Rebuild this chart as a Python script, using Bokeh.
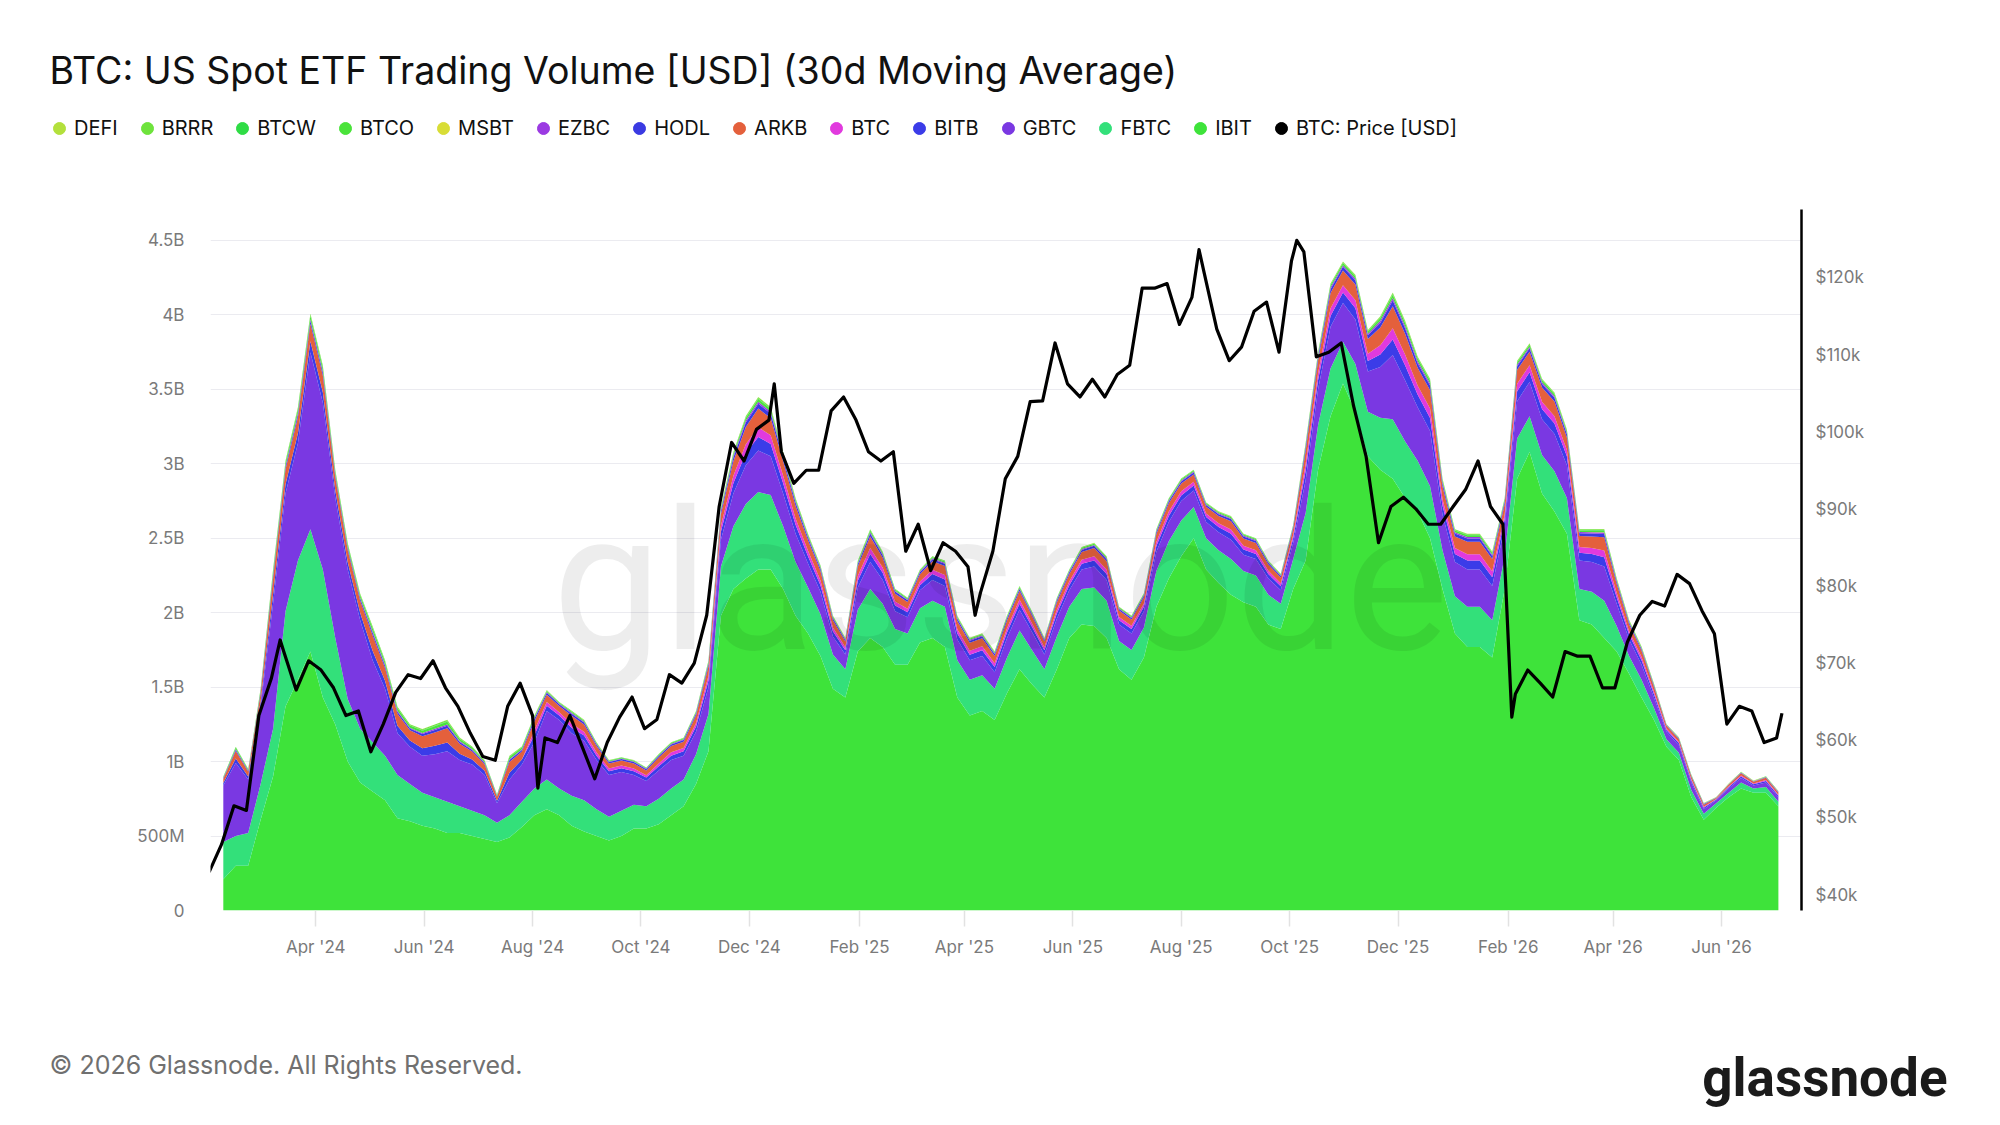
import numpy as np
import pandas as pd
from bokeh.plotting import figure
from bokeh.layouts import column
from bokeh.models import (ColumnDataSource, Range1d, LinearAxis, FixedTicker,
                          DatetimeTickFormatter, PrintfTickFormatter, Legend,
                          LegendItem, Label)
from bokeh.embed import file_html
from bokeh.resources import INLINE

TITLE = "BTC: US Spot ETF Trading Volume [USD] (30d Moving Average)"
FOOTER = "\u00a9 2026 Glassnode. All Rights Reserved."

# ---- weekly 30d-MA volume readings (first point 2024-02-09, every 7 days) ----
AREA_START = "2024-02-09"
# main funds, in billions USD
IBIT = [
    0.21, 0.30, 0.30, 0.61, 0.90, 1.37, 1.55, 1.74, 1.43, 1.25,
    1.00, 0.86, 0.80, 0.74, 0.62, 0.60, 0.57, 0.55, 0.52, 0.52,
    0.50, 0.48, 0.46, 0.49, 0.56, 0.64, 0.68, 0.64, 0.57, 0.53,
    0.50, 0.47, 0.50, 0.55, 0.55, 0.58, 0.64, 0.70, 0.85, 1.07,
    1.98, 2.16, 2.23, 2.29, 2.29, 2.16, 1.98, 1.86, 1.71, 1.49,
    1.43, 1.74, 1.83, 1.77, 1.65, 1.65, 1.80, 1.83, 1.77, 1.43,
    1.31, 1.34, 1.28, 1.46, 1.62, 1.52, 1.43, 1.62, 1.83, 1.92,
    1.91, 1.83, 1.62, 1.55, 1.70, 2.04, 2.23, 2.38, 2.50, 2.29,
    2.20, 2.12, 2.07, 2.04, 1.92, 1.89, 2.16, 2.35, 2.96, 3.32,
    3.54, 3.35, 3.05, 2.96, 2.90, 2.77, 2.68, 2.50, 2.16, 1.86,
    1.77, 1.77, 1.70, 2.16, 2.90, 3.08, 2.80, 2.68, 2.53, 1.95,
    1.92, 1.83, 1.74, 1.59, 1.43, 1.28, 1.10, 1.01, 0.76, 0.61,
    0.69, 0.76, 0.82, 0.79, 0.79, 0.70,
]
FBTC = [
    0.25, 0.20, 0.22, 0.24, 0.32, 0.64, 0.80, 0.82, 0.86, 0.58,
    0.42, 0.36, 0.33, 0.30, 0.29, 0.25, 0.22, 0.21, 0.21, 0.18,
    0.17, 0.16, 0.13, 0.15, 0.17, 0.18, 0.20, 0.18, 0.20, 0.21,
    0.18, 0.16, 0.17, 0.16, 0.15, 0.17, 0.18, 0.18, 0.20, 0.25,
    0.33, 0.42, 0.50, 0.52, 0.50, 0.42, 0.36, 0.31, 0.28, 0.23,
    0.19, 0.28, 0.33, 0.29, 0.24, 0.21, 0.23, 0.25, 0.27, 0.25,
    0.24, 0.24, 0.21, 0.24, 0.26, 0.23, 0.19, 0.22, 0.21, 0.24,
    0.26, 0.25, 0.19, 0.20, 0.20, 0.24, 0.25, 0.24, 0.21, 0.21,
    0.22, 0.24, 0.21, 0.21, 0.20, 0.17, 0.20, 0.32, 0.30, 0.32,
    0.28, 0.32, 0.30, 0.35, 0.40, 0.38, 0.34, 0.35, 0.26, 0.25,
    0.27, 0.27, 0.25, 0.22, 0.27, 0.24, 0.26, 0.27, 0.24, 0.21,
    0.22, 0.25, 0.17, 0.12, 0.12, 0.08, 0.05, 0.05, 0.05, 0.04,
    0.03, 0.03, 0.04, 0.03, 0.04, 0.03,
]
GBTC = [
    0.38, 0.49, 0.36, 0.52, 0.84, 0.79, 0.79, 1.19, 1.12, 0.94,
    0.87, 0.73, 0.55, 0.45, 0.28, 0.25, 0.25, 0.29, 0.34, 0.31,
    0.31, 0.27, 0.13, 0.24, 0.25, 0.31, 0.46, 0.46, 0.42, 0.40,
    0.33, 0.28, 0.26, 0.20, 0.17, 0.19, 0.19, 0.16, 0.15, 0.18,
    0.18, 0.22, 0.26, 0.28, 0.26, 0.22, 0.19, 0.16, 0.15, 0.12,
    0.10, 0.15, 0.18, 0.16, 0.12, 0.11, 0.12, 0.14, 0.14, 0.14,
    0.13, 0.13, 0.11, 0.13, 0.14, 0.12, 0.10, 0.12, 0.11, 0.13,
    0.14, 0.14, 0.11, 0.11, 0.11, 0.13, 0.13, 0.13, 0.11, 0.11,
    0.12, 0.13, 0.11, 0.11, 0.11, 0.09, 0.11, 0.22, 0.24, 0.28,
    0.26, 0.30, 0.27, 0.34, 0.43, 0.41, 0.36, 0.37, 0.24, 0.23,
    0.25, 0.25, 0.23, 0.20, 0.25, 0.23, 0.24, 0.25, 0.22, 0.19,
    0.20, 0.23, 0.15, 0.11, 0.10, 0.07, 0.05, 0.05, 0.05, 0.03,
    0.02, 0.03, 0.03, 0.02, 0.03, 0.03,
]
# smaller funds, in millions USD
BITB = [
    17, 31, 20, 34, 64, 62, 67, 73, 70, 53,
    50, 50, 64, 53, 50, 42, 50, 56, 59, 42,
    34, 28, 17, 45, 34, 45, 35, 30, 38, 35,
    30, 25, 25, 25, 23, 28, 30, 30, 35, 45,
    55, 70, 83, 90, 83, 70, 60, 50, 45, 35,
    28, 45, 55, 48, 38, 33, 35, 40, 43, 40,
    38, 38, 35, 38, 40, 35, 28, 35, 35, 38,
    40, 40, 30, 30, 30, 38, 40, 38, 35, 33,
    35, 40, 35, 35, 30, 28, 30, 63, 63, 73,
    70, 75, 70, 85, 105, 100, 85, 88, 60, 55,
    60, 60, 58, 48, 68, 65, 68, 70, 60, 53,
    55, 63, 43, 33, 30, 23, 13, 13, 13, 10,
    5, 8, 10, 8, 10, 10,
]
BTC_MINI = [
    0, 0, 0, 0, 0, 0, 0, 0, 0, 0,
    0, 0, 0, 0, 0, 0, 0, 0, 0, 0,
    0, 0, 0, 0, 0, 32, 25, 22, 27, 25,
    22, 18, 18, 18, 16, 20, 22, 22, 25, 32,
    40, 50, 59, 65, 59, 50, 43, 36, 32, 25,
    20, 32, 40, 34, 27, 23, 25, 29, 31, 29,
    27, 27, 25, 27, 29, 25, 20, 25, 25, 27,
    29, 29, 22, 22, 22, 27, 29, 27, 25, 23,
    25, 29, 25, 25, 22, 20, 22, 45, 45, 52,
    50, 54, 50, 61, 76, 72, 61, 63, 43, 40,
    43, 43, 41, 34, 49, 47, 49, 50, 43, 38,
    40, 45, 31, 23, 22, 16, 9, 9, 9, 7,
    4, 5, 7, 5, 7, 7,
]
ARKB = [
    27, 50, 32, 54, 104, 99, 108, 117, 113, 86,
    81, 81, 104, 86, 81, 68, 81, 90, 95, 68,
    54, 45, 27, 72, 54, 63, 49, 42, 53, 49,
    42, 35, 35, 35, 32, 39, 42, 42, 49, 63,
    77, 98, 116, 126, 116, 98, 84, 70, 63, 49,
    39, 63, 77, 67, 53, 46, 49, 56, 60, 56,
    53, 53, 49, 53, 56, 49, 39, 49, 49, 53,
    56, 56, 42, 42, 42, 53, 56, 53, 49, 46,
    49, 56, 49, 49, 42, 39, 42, 88, 88, 102,
    98, 105, 98, 119, 147, 140, 119, 123, 84, 77,
    84, 84, 81, 67, 95, 91, 95, 98, 84, 74,
    77, 88, 60, 46, 42, 32, 18, 18, 18, 14,
    7, 11, 14, 11, 14, 14,
]
HODL = [
    5, 9, 6, 10, 18, 18, 19, 21, 20, 15,
    14, 14, 18, 15, 14, 12, 14, 16, 17, 12,
    10, 8, 5, 13, 10, 16, 13, 11, 14, 13,
    11, 9, 9, 9, 8, 10, 11, 11, 13, 16,
    20, 25, 30, 32, 30, 25, 22, 18, 16, 13,
    10, 16, 20, 17, 14, 12, 13, 14, 15, 14,
    14, 14, 13, 14, 14, 13, 10, 13, 13, 14,
    14, 14, 11, 11, 11, 14, 14, 14, 13, 12,
    13, 14, 13, 13, 11, 10, 11, 23, 23, 26,
    25, 27, 25, 31, 38, 36, 31, 32, 22, 20,
    22, 22, 21, 17, 24, 23, 24, 25, 22, 19,
    20, 23, 15, 12, 11, 8, 5, 5, 5, 4,
    2, 3, 4, 3, 4, 4,
]
EZBC = [
    2, 4, 3, 5, 9, 9, 10, 10, 10, 8,
    7, 7, 9, 8, 7, 6, 7, 8, 8, 6,
    5, 4, 2, 6, 5, 7, 6, 5, 6, 6,
    5, 4, 4, 4, 4, 4, 5, 5, 6, 7,
    9, 11, 13, 14, 13, 11, 10, 8, 7, 6,
    4, 7, 9, 8, 6, 5, 6, 6, 7, 6,
    6, 6, 6, 6, 6, 6, 4, 6, 6, 6,
    6, 6, 5, 5, 5, 6, 6, 6, 6, 5,
    6, 6, 6, 6, 5, 4, 5, 10, 10, 12,
    11, 12, 11, 14, 17, 16, 14, 14, 10, 9,
    10, 10, 9, 8, 11, 10, 11, 11, 10, 8,
    9, 10, 7, 5, 5, 4, 2, 2, 2, 2,
    1, 1, 2, 1, 2, 2,
]
MSBT = [
    0, 0, 0, 0, 0, 0, 0, 0, 0, 0,
    0, 0, 0, 0, 0, 0, 0, 0, 0, 0,
    0, 0, 0, 0, 0, 0, 0, 0, 0, 0,
    0, 0, 0, 0, 0, 0, 0, 0, 0, 0,
    0, 0, 0, 0, 0, 0, 0, 0, 0, 0,
    0, 0, 0, 0, 0, 0, 0, 0, 0, 0,
    0, 0, 0, 0, 0, 0, 0, 0, 0, 0,
    0, 0, 0, 0, 0, 0, 0, 0, 0, 0,
    0, 0, 0, 0, 0, 0, 0, 0, 0, 0,
    0, 0, 0, 0, 0, 0, 0, 0, 0, 0,
    0, 0, 0, 0, 0, 0, 0, 0, 0, 0,
    0.5, 1, 1.5, 1.5, 2, 2, 1.5, 1.5, 1.5, 1.5,
    1, 1.5, 1.5, 1.5, 1.5, 1.5,
]
BTCO = [
    5, 10, 6, 11, 21, 20, 22, 23, 23, 17,
    16, 16, 21, 17, 16, 14, 16, 18, 19, 14,
    11, 9, 5, 14, 11, 9, 7, 6, 7.5, 7,
    6, 5, 5, 5, 4.5, 5.5, 6, 6, 7, 9,
    11, 14, 16.5, 18, 16.5, 14, 12, 10, 9, 7,
    5.5, 9, 11, 9.5, 7.5, 6.5, 7, 8, 8.5, 8,
    7.5, 7.5, 7, 7.5, 8, 7, 5.5, 7, 7, 7.5,
    8, 8, 6, 6, 6, 7.5, 8, 7.5, 7, 6.5,
    7, 8, 7, 7, 6, 5.5, 6, 12.5, 12.5, 14.5,
    14, 15, 14, 17, 21, 20, 17, 17.5, 12, 11,
    12, 12, 11.5, 9.5, 13.5, 13, 13.5, 14, 12, 10.5,
    11, 12.5, 8.5, 6.5, 6, 4.5, 2.5, 2.5, 2.5, 2,
    1, 1.5, 2, 1.5, 2, 2,
]
BTCW = [
    1, 1.7, 1, 1.8, 3.5, 3.3, 3.6, 3.9, 3.8, 2.9,
    2.7, 2.7, 3.5, 2.9, 2.7, 2.3, 2.7, 3, 3.2, 2.3,
    1.8, 1.5, 1, 2.4, 1.8, 1.8, 1.4, 1.2, 1.5, 1.4,
    1.2, 1, 1, 1, 0.9, 1.1, 1.2, 1.2, 1.4, 1.8,
    2.2, 2.8, 3.3, 3.6, 3.3, 2.8, 2.4, 2, 1.8, 1.4,
    1.1, 1.8, 2.2, 1.9, 1.5, 1.3, 1.4, 1.6, 1.7, 1.6,
    1.5, 1.5, 1.4, 1.5, 1.6, 1.4, 1.1, 1.4, 1.4, 1.5,
    1.6, 1.6, 1.2, 1.2, 1.2, 1.5, 1.6, 1.5, 1.4, 1.3,
    1.4, 1.6, 1.4, 1.4, 1.2, 1.1, 1.2, 2.5, 2.5, 2.9,
    2.8, 3, 2.8, 3.4, 4.2, 4, 3.4, 3.5, 2.4, 2.2,
    2.4, 2.4, 2.3, 1.9, 2.7, 2.6, 2.7, 2.8, 2.4, 2.1,
    2.2, 2.5, 1.7, 1.3, 1.2, 0.9, 0.5, 0.5, 0.5, 0.4,
    0.2, 0.3, 0.4, 0.3, 0.4, 0.4,
]
BRRR = [
    2, 4, 3, 5, 9, 9, 10, 10, 10, 8,
    7, 7, 9, 8, 7, 6, 7, 8, 8, 6,
    5, 4, 2, 6, 5, 4.5, 3.5, 3, 3.8, 3.5,
    3, 2.5, 2.5, 2.5, 2.3, 2.8, 3, 3, 3.5, 4.5,
    5.5, 7, 8.3, 9, 8.3, 7, 6, 5, 4.5, 3.5,
    2.8, 4.5, 5.5, 4.8, 3.8, 3.3, 3.5, 4, 4.3, 4,
    3.8, 3.8, 3.5, 3.8, 4, 3.5, 2.8, 3.5, 3.5, 3.8,
    4, 4, 3, 3, 3, 3.8, 4, 3.8, 3.5, 3.3,
    3.5, 4, 3.5, 3.5, 3, 2.8, 3, 6.3, 6.3, 7.3,
    7, 7.5, 7, 8.5, 10.5, 10, 8.5, 8.8, 6, 5.5,
    6, 6, 5.8, 4.8, 6.8, 6.5, 6.8, 7, 6, 5.3,
    5.5, 6.3, 4.3, 3.3, 3, 2.3, 1.3, 1.3, 1.3, 1,
    0.5, 0.8, 1, 0.8, 1, 1,
]
DEFI = [
    0.3, 0.6, 0.4, 0.6, 1.2, 1.1, 1.2, 1.3, 1.3, 1.0,
    0.9, 0.9, 1.2, 1.0, 0.9, 0.8, 0.9, 1.0, 1.1, 0.8,
    0.6, 0.5, 0.3, 0.8, 0.6, 0.9, 0.7, 0.6, 0.8, 0.7,
    0.6, 0.5, 0.5, 0.5, 0.5, 0.6, 0.6, 0.6, 0.7, 0.9,
    1.1, 1.4, 1.7, 1.8, 1.7, 1.4, 1.2, 1.0, 0.9, 0.7,
    0.6, 0.9, 1.1, 1.0, 0.8, 0.7, 0.7, 0.8, 0.9, 0.8,
    0.8, 0.8, 0.7, 0.8, 0.8, 0.7, 0.6, 0.7, 0.7, 0.8,
    0.8, 0.8, 0.6, 0.6, 0.6, 0.8, 0.8, 0.8, 0.7, 0.7,
    0.7, 0.8, 0.7, 0.7, 0.6, 0.6, 0.6, 1.3, 1.3, 1.5,
    1.4, 1.5, 1.4, 1.7, 2.1, 2.0, 1.7, 1.8, 1.2, 1.1,
    1.2, 1.2, 1.2, 1.0, 1.4, 1.3, 1.4, 1.4, 1.2, 1.1,
    1.1, 1.3, 0.9, 0.7, 0.6, 0.5, 0.3, 0.3, 0.3, 0.2,
    0.1, 0.2, 0.2, 0.2, 0.2, 0.2,
]

# ---- BTC price readings, thousands USD (weekly from 2024-02-01) ----
PRICE_START = "2024-02-01"
PRICE_K = [
    42.9, 46.5, 51.5, 50.9, 63.2, 68.0, 71.5, 66.5, 70.3, 69.1,
    66.8, 63.2, 63.8, 58.5, 62.1, 66.2, 68.5, 68.0, 70.3, 66.8,
    64.4, 60.9, 57.9, 57.4, 64.4, 67.4, 63.2, 60.3, 59.7, 63.2,
    59.1, 55.0, 59.7, 63.0, 65.6, 61.5, 62.7, 68.5, 67.4, 70.0,
    76.2, 90.3, 98.6, 96.2, 100.3, 101.5, 97.4, 93.3, 95.0, 95.0,
    102.7, 104.5, 101.5, 97.4, 96.2, 97.4, 84.5, 88.0, 82.0, 85.6,
    84.5, 82.5, 79.1, 84.5, 93.9, 96.8, 103.9, 104.0, 111.5, 106.2,
    104.5, 106.8, 104.5, 107.4, 108.6, 118.6, 118.6, 119.2, 113.9, 117.4,
    120.5, 113.3, 109.2, 111.0, 115.6, 116.8, 110.3, 122.1, 123.3, 109.7,
    110.3, 111.5, 103.3, 96.8, 85.6, 90.3, 91.5, 90.0, 88.0, 88.0,
    90.3, 92.5, 96.2, 90.3, 88.0, 66.0, 69.1, 67.4, 65.6, 71.5,
    70.9, 70.9, 66.8, 66.8, 72.7, 76.2, 78.0, 77.4, 81.5, 80.3,
    76.8, 73.8, 62.1, 64.4, 63.8, 59.7, 60.3,
]
# extra readings at visible spikes / the last point
PRICE_EXTRA_DATES = ["2024-03-12", "2024-08-04", "2024-12-15", "2025-04-07",
                     "2025-08-11", "2025-10-05", "2026-02-03", "2026-07-05"]
PRICE_EXTRA_K = [73.0, 53.8, 106.2, 76.2, 123.6, 124.8, 63.0, 63.5]

# ---- axes ----
Y_TICKS_B = [0, 0.5, 1, 1.5, 2, 2.5, 3, 3.5, 4, 4.5]
Y_TICK_LABELS = ["0", "500M", "1B", "1.5B", "2B", "2.5B", "3B", "3.5B", "4B", "4.5B"]
PRICE_TICKS_K = [40, 50, 60, 70, 80, 90, 100, 110, 120]
X_TICK_DATES = ["2024-04-01", "2024-06-01", "2024-08-01", "2024-10-01", "2024-12-01",
                "2025-02-01", "2025-04-01", "2025-06-01", "2025-08-01", "2025-10-01",
                "2025-12-01", "2026-02-01", "2026-04-01", "2026-06-01"]

# legend order (top-left), stacking is the reverse (IBIT at the bottom)
LEGEND_NAMES = ["DEFI", "BRRR", "BTCW", "BTCO", "MSBT", "EZBC", "HODL", "ARKB",
                "BTC", "BITB", "GBTC", "FBTC", "IBIT"]
PRICE_NAME = "BTC: Price [USD]"
COLORS = {
    "DEFI": "#b3e03c", "BRRR": "#6ee33c", "BTCW": "#2fdc45", "BTCO": "#4ae33a",
    "MSBT": "#d8dd36", "EZBC": "#9b3ae2", "HODL": "#3a3ae2", "ARKB": "#e4603c",
    "BTC": "#e13ade", "BITB": "#3b3ce8", "GBTC": "#7a38e2", "FBTC": "#33e07a",
    "IBIT": "#3ee33a",
}

# ---------------------------------------------------------------------------
dates = pd.date_range(AREA_START, periods=len(IBIT), freq="7D")
cols = {"date": dates}
for name, arr, unit in [("IBIT", IBIT, 1e9), ("FBTC", FBTC, 1e9), ("GBTC", GBTC, 1e9),
                        ("BITB", BITB, 1e6), ("BTC", BTC_MINI, 1e6), ("ARKB", ARKB, 1e6),
                        ("HODL", HODL, 1e6), ("EZBC", EZBC, 1e6), ("MSBT", MSBT, 1e6),
                        ("BTCO", BTCO, 1e6), ("BTCW", BTCW, 1e6), ("BRRR", BRRR, 1e6),
                        ("DEFI", DEFI, 1e6)]:
    cols[name] = np.array(arr, dtype=float) * unit
src = ColumnDataSource(pd.DataFrame(cols))

pdates = list(pd.date_range(PRICE_START, periods=len(PRICE_K), freq="7D")) + \
    [pd.Timestamp(d) for d in PRICE_EXTRA_DATES]
pdf = pd.DataFrame({"date": pdates, "price": PRICE_K + PRICE_EXTRA_K}).sort_values("date")
psrc = ColumnDataSource(pdf)

W = 1984
H_TOP, H_MAIN, H_BOT = 150, 837, 121
FONT = "Inter"


def blank(height):
    f = figure(width=W, height=height, output_backend="svg", toolbar_location=None,
               x_axis_type=None, y_axis_type=None,
               x_range=Range1d(0, W), y_range=Range1d(0, height),
               min_border=0, min_border_left=0, min_border_right=0,
               min_border_top=0, min_border_bottom=0)
    f.outline_line_color = None
    f.background_fill_color = "white"
    f.border_fill_color = "white"
    f.frame_align = False
    return f


# ---- header: title + legend ----
top = blank(H_TOP)
top.add_layout(Label(x=49, y=80, text=TITLE, text_font=FONT, text_font_size="37.5px",
                     text_color="#111111", text_baseline="alphabetic"))
items = []
for n in LEGEND_NAMES:
    # single off-canvas point: only its legend swatch is visible
    r = top.scatter(x=[-500], y=[-500], marker="circle", size=12, fill_color=COLORS[n],
                    line_color=COLORS[n])
    items.append(LegendItem(label=n, renderers=[r]))
rp = top.scatter(x=[-500], y=[-500], marker="circle", size=12, fill_color="black",
                 line_color="black")
items.append(LegendItem(label=PRICE_NAME, renderers=[rp]))
legend = Legend(items=items, orientation="horizontal", location=(44, 7),
                glyph_width=30, glyph_height=30, label_standoff=0, spacing=14,
                padding=0, margin=0, border_line_color=None, background_fill_alpha=0,
                label_text_font=FONT, label_text_font_size="20px",
                label_text_color="#111111")
top.add_layout(legend)

# ---- main chart ----
p = figure(width=W, height=H_MAIN, x_axis_type="datetime", output_backend="svg",
           toolbar_location=None,
           x_range=Range1d(pd.Timestamp("2024-02-01 19:00"), pd.Timestamp("2026-07-16")),
           y_range=Range1d(0, 4.708e9),
           min_border_left=210, min_border_right=183, min_border_top=59,
           min_border_bottom=77)
p.frame_align = False
p.outline_line_color = None
p.background_fill_color = "white"
p.border_fill_color = "white"
p.extra_y_ranges = {"price": Range1d(37.93, 128.8)}

stack_order = LEGEND_NAMES[::-1]
p.varea_stack(stackers=stack_order, x="date", color=[COLORS[n] for n in stack_order],
              source=src)

p.line(x="date", y="price", source=psrc, y_range_name="price", line_color="black",
       line_width=3.2, line_join="round")

ya = p.yaxis[0]
ya.ticker = FixedTicker(ticks=[t * 1e9 for t in Y_TICKS_B])
ya.major_label_overrides = {t * 1e9: lab for t, lab in zip(Y_TICKS_B, Y_TICK_LABELS)}
ya.axis_line_color = None
ya.major_tick_line_color = None
ya.minor_tick_line_color = None
ya.major_tick_out = 0
ya.major_tick_in = 0
ya.major_label_standoff = 26
ya.major_label_text_font = FONT
ya.major_label_text_font_size = "17px"
ya.major_label_text_color = "#7a7a7a"

xa = p.xaxis[0]
xa.ticker = FixedTicker(ticks=[pd.Timestamp(d).value / 1e6 for d in X_TICK_DATES])
xa.formatter = DatetimeTickFormatter(days="%b '%y", months="%b '%y", years="%b '%y")
xa.axis_line_color = None
xa.major_tick_line_color = "#e2e2e2"
xa.major_tick_line_width = 1.5
xa.minor_tick_line_color = None
xa.major_tick_in = 0
xa.major_tick_out = 16
xa.major_label_standoff = 10
xa.major_label_text_font = FONT
xa.major_label_text_font_size = "17px"
xa.major_label_text_color = "#7a7a7a"

ra = LinearAxis(y_range_name="price", ticker=FixedTicker(ticks=PRICE_TICKS_K),
                formatter=PrintfTickFormatter(format="$%dk"))
ra.axis_line_color = "black"
ra.axis_line_width = 2.5
ra.major_tick_line_color = None
ra.minor_tick_line_color = None
ra.major_tick_out = 0
ra.major_tick_in = 0
ra.major_label_standoff = 14
ra.major_label_text_font = FONT
ra.major_label_text_font_size = "17px"
ra.major_label_text_color = "#7a7a7a"
p.add_layout(ra, "right")

p.xgrid.visible = False
p.ygrid.grid_line_color = "#ebebf0"
p.ygrid.grid_line_width = 1.2

# watermark
p.add_layout(Label(x=790, y=328, x_units="screen", y_units="screen", text="glassnode",
                   text_font="Roboto", text_font_size="195px", text_color="black",
                   text_alpha=0.07, text_align="center", text_baseline="alphabetic"))

# ---- footer ----
bot = blank(H_BOT)
bot.add_layout(Label(x=49, y=44, text=FOOTER, text_font=FONT, text_font_size="25px",
                     text_color="#707070", text_baseline="middle"))
bot.add_layout(Label(x=1947, y=31, text="glassnode", text_font="Roboto",
                     text_font_size="53px", text_font_style="bold", text_color="#1b1b1b",
                     text_align="right", text_baseline="alphabetic"))

layout = column(top, p, bot, spacing=0)
open("out.html", "w").write(file_html(layout, INLINE))
